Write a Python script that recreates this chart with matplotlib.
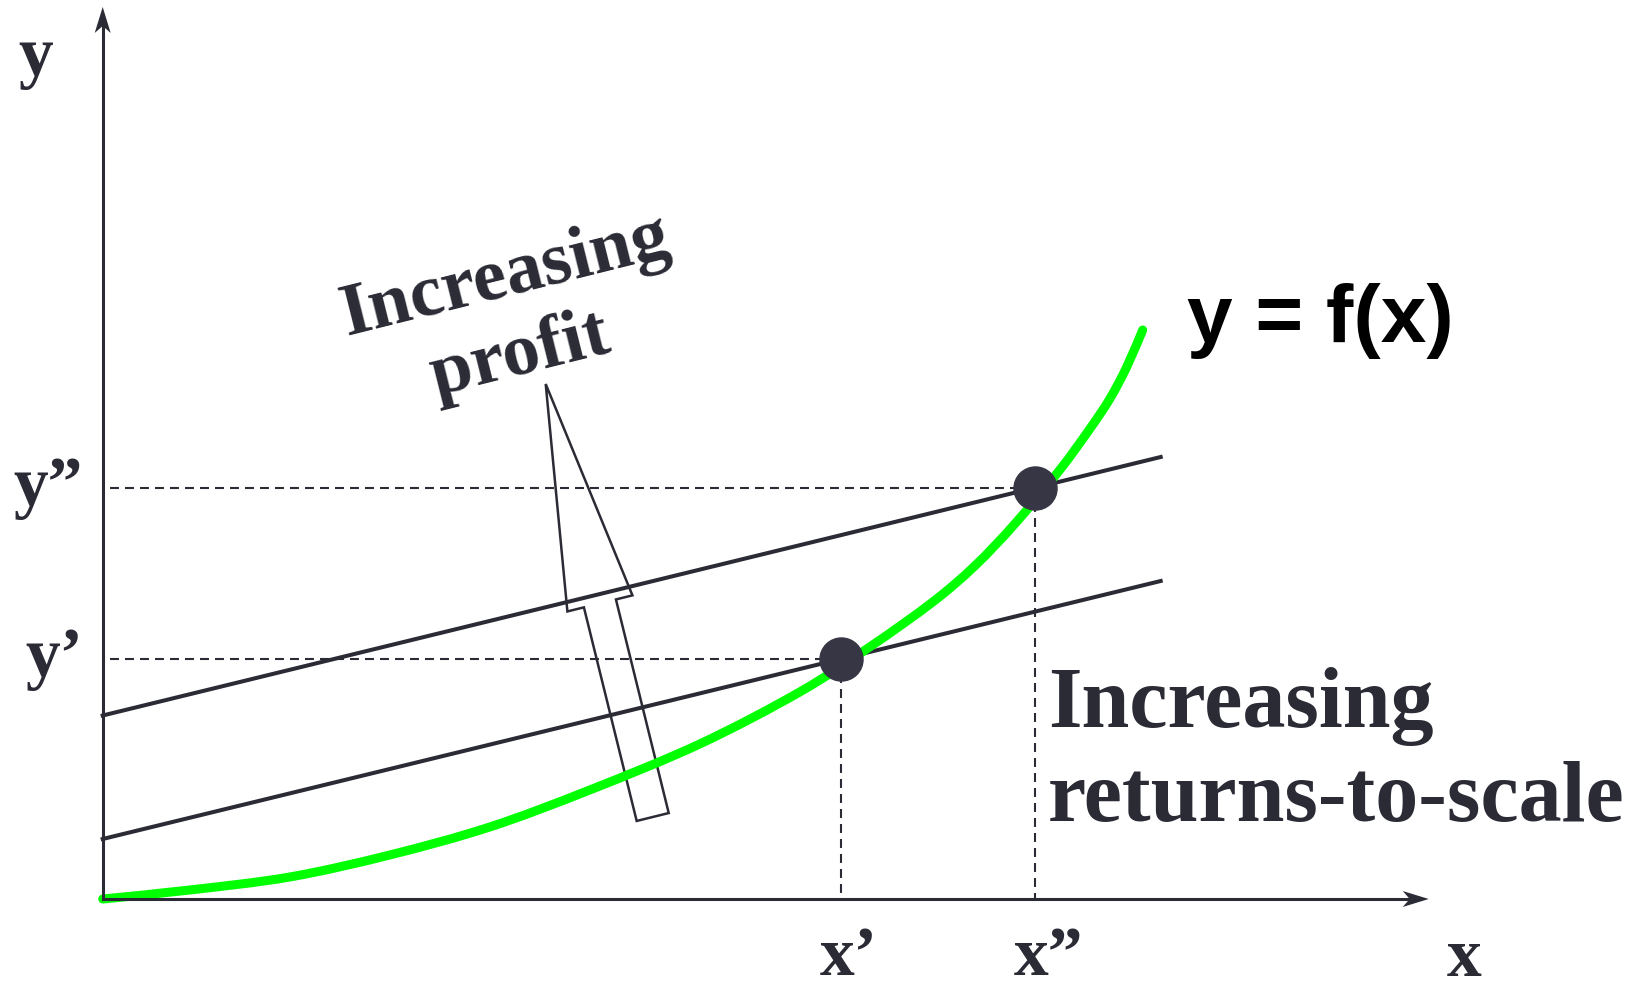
import numpy as np
import matplotlib.pyplot as plt
from matplotlib.patches import FancyArrow, Polygon, PathPatch
from matplotlib.path import Path

# production function y = f(x)
curve_x = [0.0, 0.87, 1.87, 2.87, 3.87, 4.87, 5.97, 6.97, 7.67, 8.30,
           8.72, 9.12, 9.57, 9.87, 10.07, 10.24, 10.40]
curve_y = [0.0, 0.09, 0.22, 0.44, 0.72, 1.09, 1.55, 2.07, 2.52, 2.97,
           3.33, 3.75, 4.29, 4.70, 5.00, 5.32, 5.69]

# two isoprofit lines, same slope (end points)
iso_x = [0.0, 10.58]
iso_low = [0.60, 3.18]
iso_high = [1.835, 4.42]

# chosen input/output pairs (x', y') and (x'', y'')
pt_x = [7.38, 9.32]
pt_y = [2.40, 4.11]
x_names = ['x\u2019', 'x\u201d']
y_names = ['y\u2019', 'y\u201d']

# hollow "increasing profit" arrow, tail -> tip
arrow_tail = (5.50, 0.82)
arrow_tip = (4.43, 5.15)

# axis lengths
x_end = 13.26
y_end = 8.92

dark = '#2b2b36'
green = '#00ff00'
serif = 'Liberation Serif'


def arrow_head(ax, tip, direction, length=0.26, half=0.08, notch=0.07):
    d = np.array(direction, float)
    d = d / np.hypot(*d)
    n = np.array([-d[1], d[0]])
    tip = np.array(tip, float)
    back = tip - length * d
    pts = [tip, back + half * n, tip - (length - notch) * d, back - half * n]
    ax.add_patch(Polygon(pts, closed=True, color=dark, lw=0, zorder=6))


def smooth_path(xs, ys):
    # cubic bezier pieces through the given points (catmull-rom tangents)
    p = np.column_stack([xs, ys])
    n = len(p)
    verts = [p[0]]
    codes = [Path.MOVETO]
    for i in range(n - 1):
        p0 = p[max(i - 1, 0)]
        p1 = p[i]
        p2 = p[i + 1]
        p3 = p[min(i + 2, n - 1)]
        verts += [p1 + (p2 - p0) / 6, p2 - (p3 - p1) / 6, p2]
        codes += [Path.CURVE4] * 3
    return Path(verts, codes)


fig = plt.figure(figsize=(16.4, 9.9), dpi=100)
ax = fig.add_axes([0, 0, 1, 1])
ax.set_xlim(-1.027, 15.373)
ax.set_ylim(-0.91, 8.99)
ax.axis('off')

# axes with arrow heads
ax.plot([0, x_end - 0.15], [0, 0], color=dark, lw=2.2, zorder=6)
ax.plot([0, 0], [0, y_end - 0.15], color=dark, lw=2.2, zorder=6)
arrow_head(ax, (x_end, 0), (1, 0))
arrow_head(ax, (0, y_end), (0, 1))

# dashed guides to the axes
for xi, yi in zip(pt_x, pt_y):
    ax.plot([0.07, xi], [yi, yi], color=dark, lw=1.5, ls=(0, (4.3, 2.9)),
            zorder=1)
    ax.plot([xi, xi], [yi, 0], color=dark, lw=1.5, ls=(0, (4.3, 2.9)),
            zorder=1)

# profit arrow (outline only)
ax.add_patch(FancyArrow(arrow_tail[0], arrow_tail[1],
                        arrow_tip[0] - arrow_tail[0],
                        arrow_tip[1] - arrow_tail[1],
                        width=0.33, head_width=0.67, head_length=2.26,
                        length_includes_head=True, fill=False,
                        ec=dark, lw=1.8, zorder=2))

ax.plot(iso_x, iso_low, color=dark, lw=2.9, zorder=3)
ax.plot(iso_x, iso_high, color=dark, lw=2.9, zorder=3)

ax.add_patch(PathPatch(smooth_path(curve_x, curve_y), fill=False,
                       ec=green, lw=6.5, capstyle='round',
                       joinstyle='round', zorder=4))

ax.plot(pt_x, pt_y, 'o', ms=31, color='#363644', zorder=5)

# labels
lab = dict(family=serif, weight='bold', color=dark, fontsize=50,
           va='baseline', ha='left')
ax.text(-0.84, 8.24, 'y', **lab)
ax.text(13.44, -0.77, 'x', **lab)
for xi, name in zip(pt_x, x_names):
    ax.text(xi - 0.21, -0.76, name, **lab)
for yi, name, x0 in zip(pt_y, y_names, [-0.77, -0.89]):
    ax.text(x0, yi - 0.17, name, **lab)

ax.text(10.84, 5.57, 'y = f(x)', family='Liberation Sans', weight='bold',
        color='black', fontsize=59, va='baseline', ha='left')

ax.text(9.45, 1.72, 'Increasing', family=serif, weight='bold', color=dark,
        fontsize=62, va='baseline', ha='left')
ax.text(9.45, 0.78, 'returns-to-scale', family=serif, weight='bold',
        color=dark, fontsize=62, va='baseline', ha='left')

rot = dict(family=serif, weight='bold', color=dark, fontsize=54,
           rotation=14, rotation_mode='anchor', ha='center', va='baseline')
ax.text(4.07, 6.04, 'Increasing', **rot)
ax.text(4.22, 5.26, 'profit', **rot)

plt.savefig('out.png', dpi=100)
